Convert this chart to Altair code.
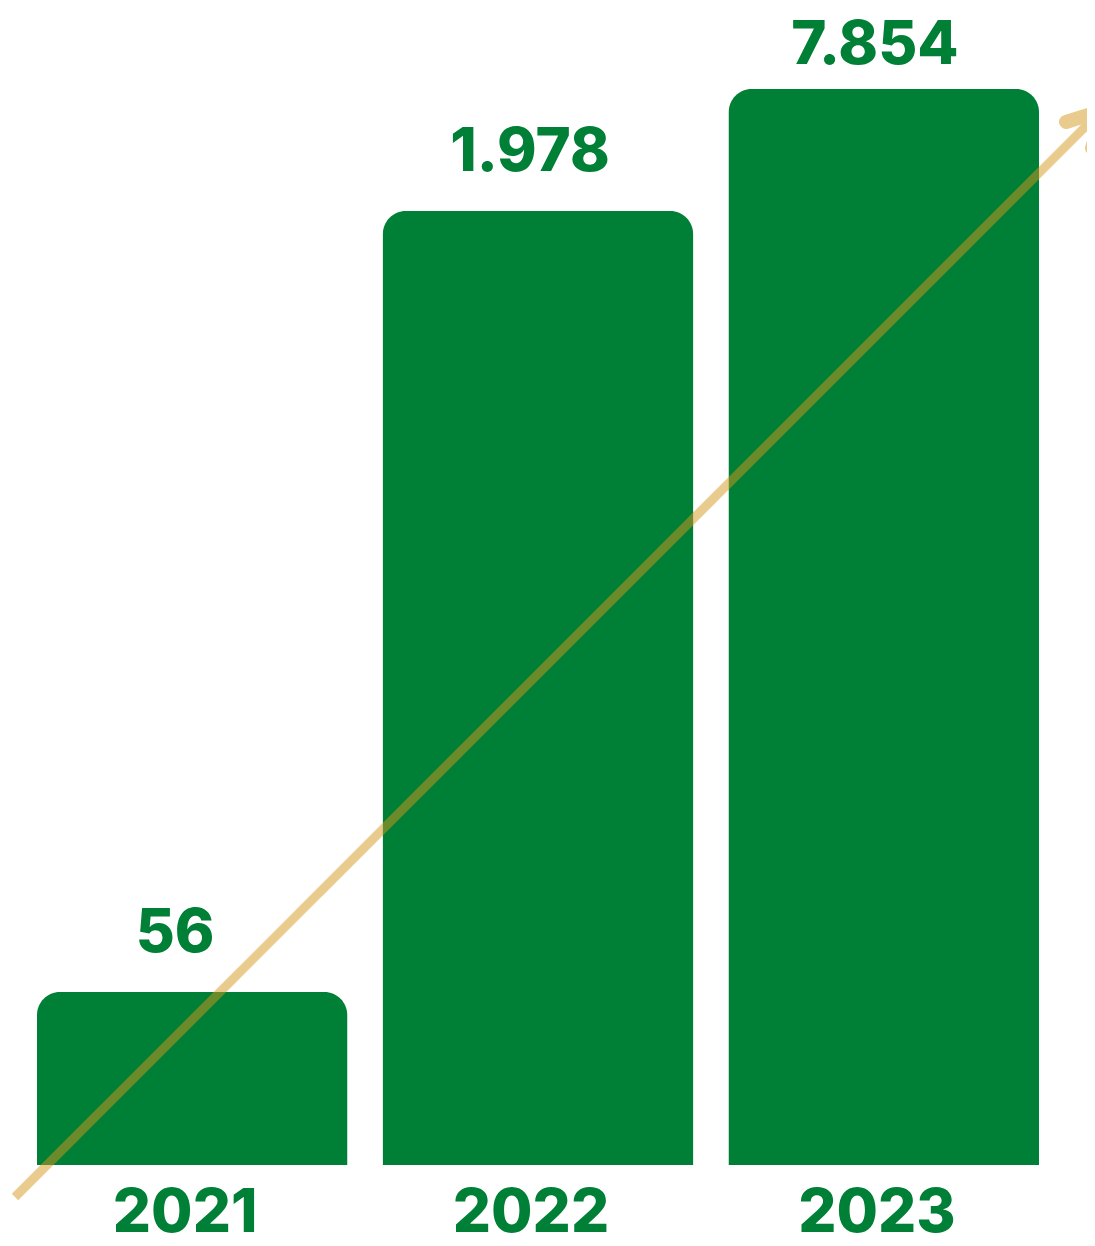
import altair as alt
import pandas as pd

years = ["2021", "2022", "2023"]
values = [56, 1978, 7854]
labels = ["56", "1.978", "7.854"]

# the graphic's bars are not proportional: piecewise scale breakpoints
scale_domain = [0, 56, 1978, 7854]
scale_range = [1157, 984, 203, 81]

GREEN = "#007F36"
FONT = "Inter"

df = pd.DataFrame({"year": years, "value": values, "label": labels})
one = alt.Data(values=[{"k": 1}])

xenc = alt.X("year:N", scale=alt.Scale(range=[29, 1031], paddingInner=0.103, paddingOuter=0), axis=None)
yscale = alt.Scale(domain=scale_domain, range=scale_range, nice=False, zero=False)
yenc = alt.Y("value:Q", scale=yscale, axis=None)

base = alt.Chart(df)

bars = base.mark_bar(color=GREEN, cornerRadiusTopLeft=23, cornerRadiusTopRight=23).encode(
    x=xenc, y=yenc, y2=alt.datum(0)
)

arrow_line = alt.Chart(one).mark_rule(color="#D6971E", opacity=0.5, strokeWidth=9).encode(
    x=alt.value(7), y=alt.value(1189), x2=alt.value(1094), y2=alt.value(102)
)
arm1 = alt.Chart(one).mark_rule(color="#EACB8E", strokeWidth=14, strokeCap="round").encode(
    x=alt.value(1058), y=alt.value(114), x2=alt.value(1096), y2=alt.value(102)
)
arm2 = alt.Chart(one).mark_rule(color="#EACB8E", strokeWidth=14, strokeCap="round").encode(
    x=alt.value(1084), y=alt.value(140), x2=alt.value(1096), y2=alt.value(102)
)

txt = dict(font=FONT, fontSize=60, fontWeight=800, color=GREEN, align="center", baseline="alphabetic")


def vlabel(year, dy, dx):
    return base.transform_filter(alt.FieldEqualPredicate(field="year", equal=year)).mark_text(
        dy=dy, dx=dx, **txt
    ).encode(x=xenc, y=yenc, text="label:N")


val_a = vlabel("2021", -40, -17)
val_b = vlabel("2022", -40, -8)
val_c = vlabel("2023", -25, -9)

year_lbl = base.mark_text(dy=67, dx=-7, **txt).encode(
    x=xenc, y=alt.Y(datum=0, scale=yscale, axis=None), text="year:N"
)

chart = alt.layer(bars, arrow_line, arm1, arm2, val_a, val_b, val_c, year_lbl).properties(
    width=1079, height=1230, autosize=alt.AutoSizeParams(type="none"), padding=0,
    background="white"
).configure_view(stroke=None)

chart.save("out.html", embed_options={"renderer": "svg", "actions": False})
